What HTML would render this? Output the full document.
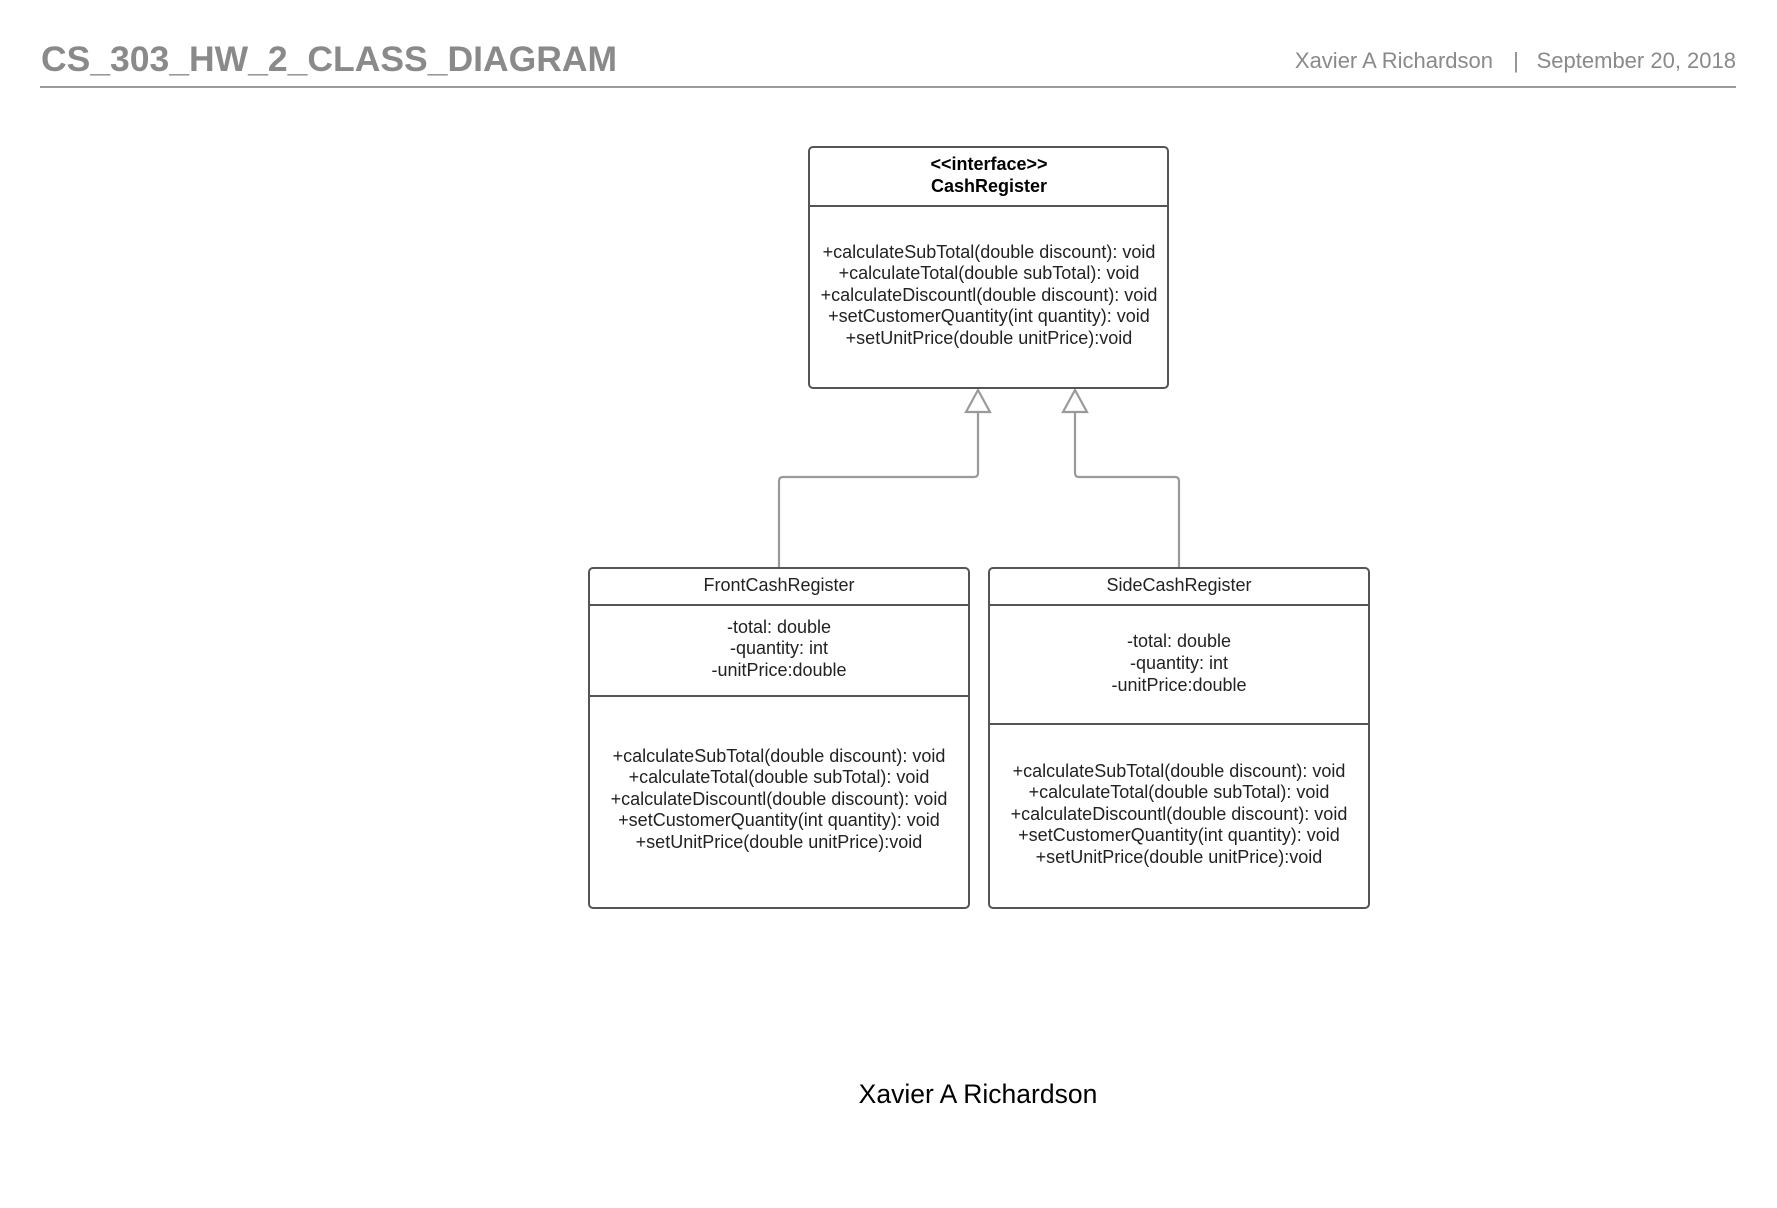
<!DOCTYPE html>
<html><head><meta charset="utf-8"><style>
html,body{margin:0;padding:0;background:#fff;}
svg{display:block;}
text{font-family:"Liberation Sans",Arial,sans-serif;}
</style></head><body>
<svg width="1777" height="1208" viewBox="0 0 1777 1208" xmlns="http://www.w3.org/2000/svg">
<rect width="1777" height="1208" fill="#fff"/>
<text x="41" y="71" font-size="35.5" font-weight="bold" fill="#8a8a8a">CS_303_HW_2_CLASS_DIAGRAM</text>
<text x="1493" y="68" font-size="22" fill="#8a8a8a" text-anchor="end">Xavier A Richardson</text>
<text x="1516" y="68" font-size="22" fill="#8a8a8a" text-anchor="middle">|</text>
<text x="1736" y="68" font-size="22" fill="#8a8a8a" text-anchor="end">September 20, 2018</text>
<line x1="40" y1="87" x2="1736" y2="87" stroke="#9a9a9a" stroke-width="2"/>

<g fill="none" stroke="#9a9a9a" stroke-width="2.2">
<path d="M978 412 V473 Q978 477 974 477 H783 Q779 477 779 481 V568"/>
<path d="M1075 412 V473 Q1075 477 1079 477 H1175 Q1179 477 1179 481 V568"/>
<polygon points="978,390 966,412 990,412" fill="#fff"/>
<polygon points="1075,390 1063,412 1087,412" fill="#fff"/>
</g>

<g fill="#fff" stroke="#555" stroke-width="2">
<rect x="809" y="147" width="359" height="241" rx="4"/>
<line x1="809" y1="206" x2="1168" y2="206"/>
<rect x="589" y="568" width="380" height="340" rx="4"/>
<line x1="589" y1="605" x2="969" y2="605"/>
<line x1="589" y1="696" x2="969" y2="696"/>
<rect x="989" y="568" width="380" height="340" rx="4"/>
<line x1="989" y1="605" x2="1369" y2="605"/>
<line x1="989" y1="724" x2="1369" y2="724"/>
</g>

<g font-size="18" fill="#222" text-anchor="middle">
<text x="989" y="170" font-weight="bold" fill="#000">&lt;&lt;interface&gt;&gt;</text>
<text x="989" y="192" font-weight="bold" fill="#000">CashRegister</text>
<text x="989" y="258">+calculateSubTotal(double discount): void</text>
<text x="989" y="279">+calculateTotal(double subTotal): void</text>
<text x="989" y="301">+calculateDiscountl(double discount): void</text>
<text x="989" y="322">+setCustomerQuantity(int quantity): void</text>
<text x="989" y="344">+setUnitPrice(double unitPrice):void</text>

<text x="779" y="591">FrontCashRegister</text>
<text x="779" y="633">-total: double</text>
<text x="779" y="654">-quantity: int</text>
<text x="779" y="676">-unitPrice:double</text>
<text x="779" y="762">+calculateSubTotal(double discount): void</text>
<text x="779" y="783">+calculateTotal(double subTotal): void</text>
<text x="779" y="805">+calculateDiscountl(double discount): void</text>
<text x="779" y="826">+setCustomerQuantity(int quantity): void</text>
<text x="779" y="848">+setUnitPrice(double unitPrice):void</text>

<text x="1179" y="591">SideCashRegister</text>
<text x="1179" y="647">-total: double</text>
<text x="1179" y="669">-quantity: int</text>
<text x="1179" y="691">-unitPrice:double</text>
<text x="1179" y="777">+calculateSubTotal(double discount): void</text>
<text x="1179" y="798">+calculateTotal(double subTotal): void</text>
<text x="1179" y="820">+calculateDiscountl(double discount): void</text>
<text x="1179" y="841">+setCustomerQuantity(int quantity): void</text>
<text x="1179" y="863">+setUnitPrice(double unitPrice):void</text>
</g>

<text x="978" y="1103" font-size="26.5" fill="#000" text-anchor="middle">Xavier A Richardson</text>
</svg>
</body></html>
